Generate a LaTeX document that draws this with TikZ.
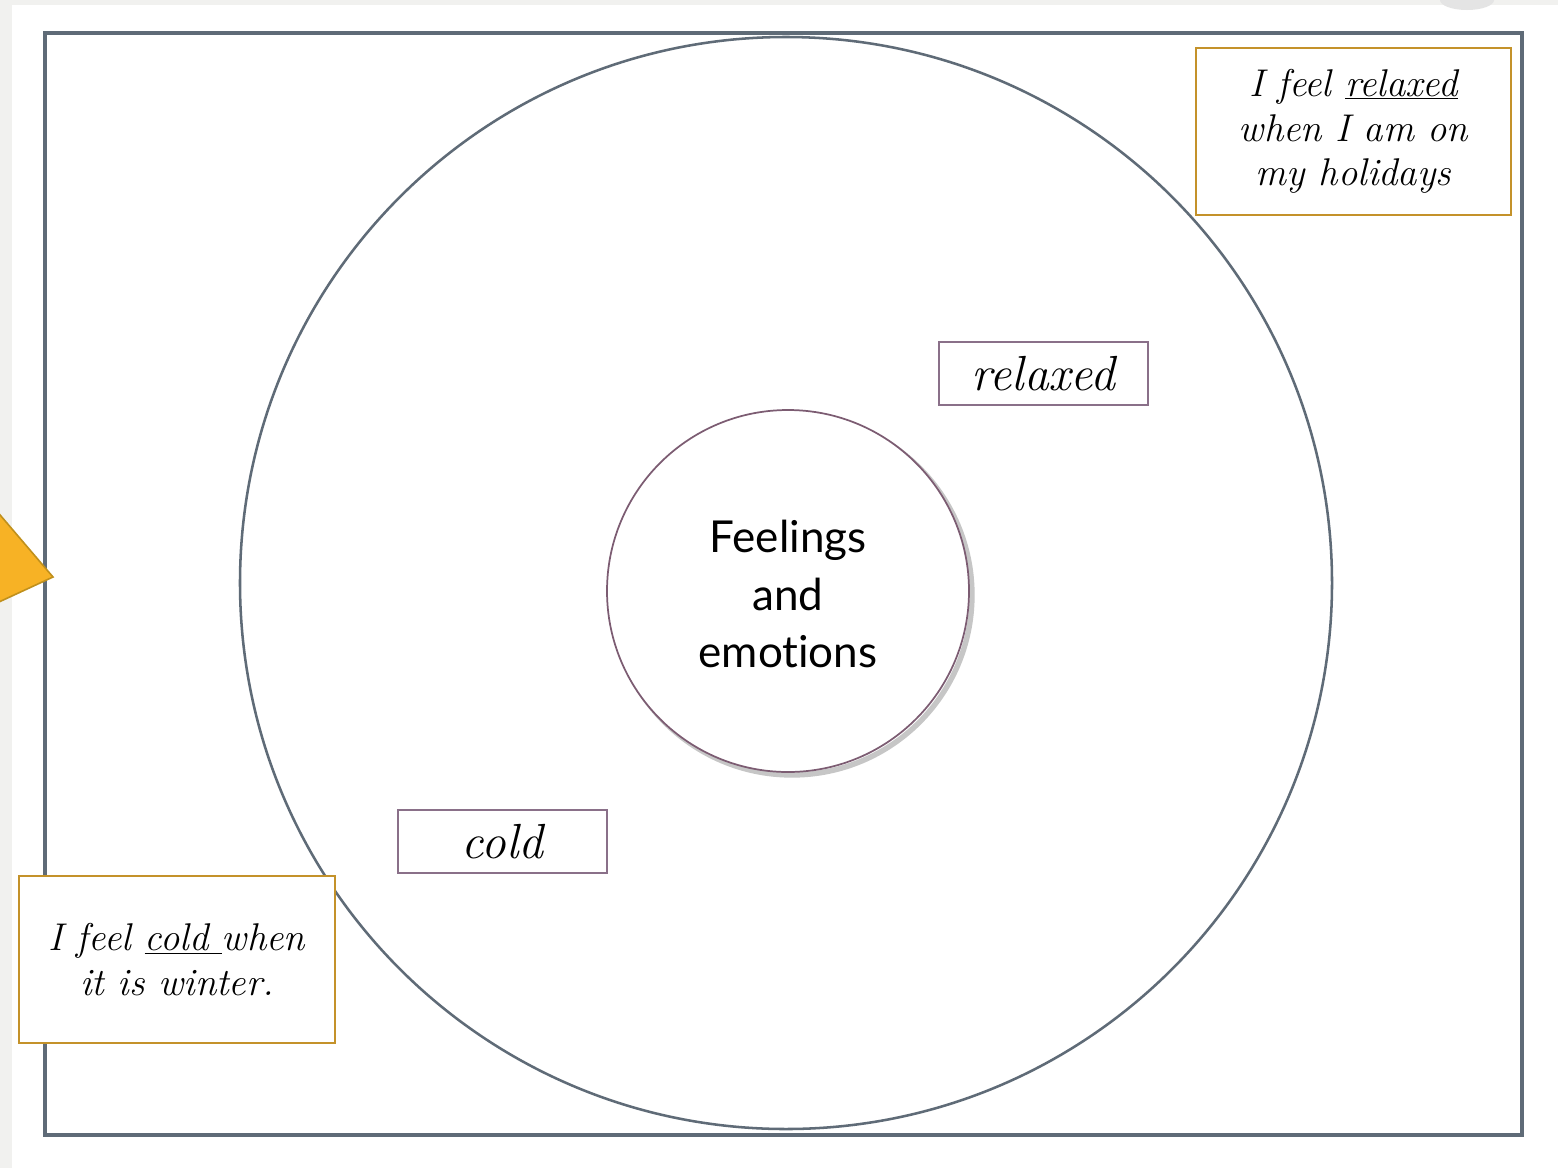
\documentclass[tikz,border=0pt]{standalone}
\usepackage{fontspec}
\newfontfamily\gillfont[Ligatures=NoCommon]{Lato}
\definecolor{bggray}{HTML}{F1F1EF}
\definecolor{blobgray}{HTML}{E4E4E4}
\definecolor{framecol}{HTML}{5F6B77}
\definecolor{innercol}{HTML}{7C5C72}
\definecolor{boxpurple}{HTML}{8A7089}
\definecolor{gold}{HTML}{C4922A}
\definecolor{trifill}{HTML}{F7B225}
\definecolor{triedge}{HTML}{C0901C}
\tikzset{
  wordbox/.style={draw=boxpurple, line width=1.5pt, fill=white, minimum width=156.75pt, minimum height=47.25pt, inner sep=0pt, font=\fontsize{37}{42}\selectfont\itshape},
  sentencebox/.style={draw=gold, line width=1.5pt, fill=white, minimum height=125.25pt, inner sep=0pt, align=center, font=\fontsize{29}{33.5}\selectfont\itshape},
}
\begin{document}
\begin{tikzpicture}[x=0.75pt,y=-0.75pt]
\useasboundingbox (0,0) rectangle (1558,1168);
\clip (0,0) rectangle (1558,1168);
\fill[white] (0,0) rectangle (1558,1168);
\fill[bggray] (0,0) rectangle (1558,5);
\fill[bggray] (0,0) rectangle (12,1168);
\fill[blobgray] (1467,0) ellipse [x radius=27, y radius=10];
% outer frame
\draw[framecol, line width=2.4pt] (45,33) rectangle (1522,1135);
% big circle
\draw[framecol, line width=1.9pt] (786,583) circle [radius=546];
% inner circle with shadow
\draw[gray!45, line width=4pt] (792,595) circle [radius=180];
\draw[innercol, line width=1.3pt, fill=white] (788,591) circle [radius=181];
\node[font=\gillfont\fontsize{33}{43}\selectfont, align=center] (centre) at (788,594) {Feelings\\and\\emotions};
% word boxes
\node[wordbox] (relaxed) at (1043.5,373.5) {relaxed};
\node[wordbox] (cold) at (502.5,841.5) {cold};
% sentence boxes
\node[sentencebox, minimum width=236.25pt] (relaxedsent) at (1353.5,131.5) {I feel \underline{relaxed}\\when I am on\\my holidays};
\node[sentencebox, minimum width=237pt] (coldsent) at (177,959.5) {I feel \underline{cold }when\\it is winter.};
% orange triangle
\filldraw[fill=trifill, draw=triedge, line width=1.2pt, line join=miter] (53,577) -- (-40,468) -- (-40,620) -- cycle;
\end{tikzpicture}
\end{document}
